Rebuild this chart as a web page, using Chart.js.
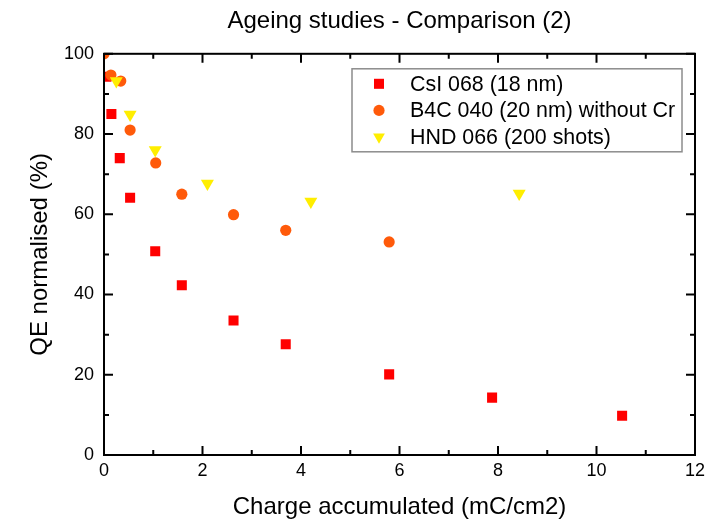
<!DOCTYPE html>
<html>
<head>
<meta charset="utf-8">
<title>Ageing studies - Comparison (2)</title>
<script src="https://cdn.jsdelivr.net/npm/chart.js@4.4.0/dist/chart.umd.min.js"></script>
<style>
  html, body { margin: 0; padding: 0; background: #fff; }
</style>
</head>
<body>
<canvas id="myChart" width="725" height="522"></canvas>
<script>
// values
var csiX = [0.05, 0.15, 0.32, 0.53, 1.04, 1.58, 2.63, 3.69, 5.79, 7.88, 10.52];
var csiY = [94.3, 85, 74, 64.1, 50.8, 42.3, 33.5, 27.6, 20.1, 14.3, 9.8];

var b4cX = [0, 0.14, 0.34, 0.53, 1.05, 1.58, 2.63, 3.69, 5.79];
var b4cY = [100, 94.7, 93.2, 81, 72.8, 65, 59.9, 56, 53.1];

var hndX = [0.25, 0.53, 1.04, 2.1, 4.2, 8.43];
var hndY = [93.2, 84.9, 76, 67.7, 63.2, 65.2];

var seriesNames = ['CsI 068 (18 nm)', 'B4C 040 (20 nm) without Cr', 'HND 066 (200 shots)'];
var chartTitle = 'Ageing studies - Comparison (2)';
var xTitle = 'Charge accumulated (mC/cm2)';
var yTitle = 'QE normalised (%)';

var FONT = "'Liberation Sans', Arial, sans-serif";

function toPoints(xs, ys) {
	var pts = [];
	for (var i = 0; i < xs.length; i++) {
		pts.push({x: xs[i], y: ys[i]});
	}
	return pts;
}

var csiSet = {
	label: seriesNames[0],
	data: toPoints(csiX, csiY),
	pointStyle: 'rect',
	pointRadius: 7.1,
	pointBackgroundColor: '#FF0000',
	pointBorderWidth: 0,
	showLine: false
};
var b4cSet = {
	label: seriesNames[1],
	data: toPoints(b4cX, b4cY),
	pointStyle: 'circle',
	pointRadius: 5.6,
	pointBackgroundColor: '#FF5A0A',
	pointBorderWidth: 0,
	showLine: false
};
var hndSet = {
	label: seriesNames[2],
	data: toPoints(hndX, hndY),
	pointStyle: 'triangle',
	pointRotation: 180,
	pointRadius: 7.5,
	pointBackgroundColor: '#FFEE00',
	pointBorderWidth: 0,
	showLine: false
};

/* frame with inward ticks on all four sides */
var axisFrame = {
	id: 'axisFrame',
	afterDatasetsDraw: function(chart) {
		var c = chart.ctx, a = chart.chartArea;
		var xs = chart.scales.x, ys = chart.scales.y;
		var major = 9, minor = 5;
		c.save();
		c.strokeStyle = '#000';
		c.lineWidth = 2;
		c.strokeRect(a.left, a.top, a.right - a.left, a.bottom - a.top);
		c.beginPath();
		xs.ticks.forEach(function(t, i) {
			var px = xs.getPixelForValue(t.value);
			c.moveTo(px, a.bottom); c.lineTo(px, a.bottom - major);
			c.moveTo(px, a.top); c.lineTo(px, a.top + major);
			if (i < xs.ticks.length - 1) {
				var mx = xs.getPixelForValue((t.value + xs.ticks[i + 1].value) / 2);
				c.moveTo(mx, a.bottom); c.lineTo(mx, a.bottom - minor);
				c.moveTo(mx, a.top); c.lineTo(mx, a.top + minor);
			}
		});
		ys.ticks.forEach(function(t, i) {
			var py = ys.getPixelForValue(t.value);
			c.moveTo(a.left, py); c.lineTo(a.left + major, py);
			c.moveTo(a.right, py); c.lineTo(a.right - major, py);
			if (i < ys.ticks.length - 1) {
				var my = ys.getPixelForValue((t.value + ys.ticks[i + 1].value) / 2);
				c.moveTo(a.left, my); c.lineTo(a.left + minor, my);
				c.moveTo(a.right, my); c.lineTo(a.right - minor, my);
			}
		});
		c.stroke();
		c.restore();
	}
};

/* boxed legend inside the plot, top right */
var boxLegend = {
	id: 'boxLegend',
	afterDraw: function(chart) {
		var c = chart.ctx, a = chart.chartArea;
		var entries = [csiSet, b4cSet, hndSet];
		var w = 330, h = 83;
		var left = a.right - 13 - w, top = a.top + 15;
		c.save();
		c.fillStyle = '#fff';
		c.fillRect(left, top, w, h);
		c.strokeStyle = '#8c8c8c';
		c.lineWidth = 1.5;
		c.strokeRect(left, top, w, h);
		c.font = '21.4px ' + FONT;
		c.textBaseline = 'middle';
		c.textAlign = 'left';
		entries.forEach(function(ds, i) {
			var y = top + 15 + i * 26.6;
			c.fillStyle = ds.pointBackgroundColor;
			Chart.helpers.drawPoint(c, {
				pointStyle: ds.pointStyle,
				rotation: ds.pointRotation || 0,
				radius: ds.pointStyle === 'triangle' ? 6.8 : ds.pointRadius,
				borderWidth: 0
			}, left + 27, y);
			c.fillStyle = '#000';
			c.fillText(ds.label, left + 58, y + 1);
		});
		c.restore();
	}
};

var ctx = document.getElementById("myChart").getContext('2d');
var myChart = new Chart(ctx, {
	type: 'scatter',
	data: {
		datasets: [hndSet, b4cSet, csiSet]
	},
	options: {
		responsive: false,
		animation: false,
		layout: {
			padding: {left: 0, right: 30, top: 0, bottom: 0}
		},
		plugins: {
			legend: {display: false},
			tooltip: {enabled: false},
			title: {
				display: true,
				fullSize: false,
				text: chartTitle,
				color: '#000',
				font: {family: FONT, size: 24, weight: 'normal'},
				padding: {top: 7, bottom: 18}
			}
		},
		scales: {
			x: {
				type: 'linear',
				min: 0,
				max: 12,
				grid: {display: false, drawTicks: false},
				border: {display: false},
				ticks: {
					stepSize: 2,
					color: '#000',
					font: {family: FONT, size: 18},
					padding: 5,
					maxRotation: 0
				},
				title: {
					display: true,
					text: xTitle,
					color: '#000',
					font: {family: FONT, size: 24},
					padding: {top: 0, bottom: 0}
				},
				afterFit: function(scale) { scale.height = 67; }
			},
			y: {
				type: 'linear',
				min: 0,
				max: 100,
				grid: {display: false, drawTicks: false},
				border: {display: false},
				ticks: {
					stepSize: 20,
					color: '#000',
					font: {family: FONT, size: 18},
					padding: 10
				},
				title: {
					display: true,
					text: yTitle,
					color: '#000',
					font: {family: FONT, size: 24},
					padding: {top: 26, bottom: 0}
				},
				afterFit: function(scale) { scale.width = 104; }
			}
		}
	},
	plugins: [axisFrame, boxLegend]
});
</script>
</body>
</html>
